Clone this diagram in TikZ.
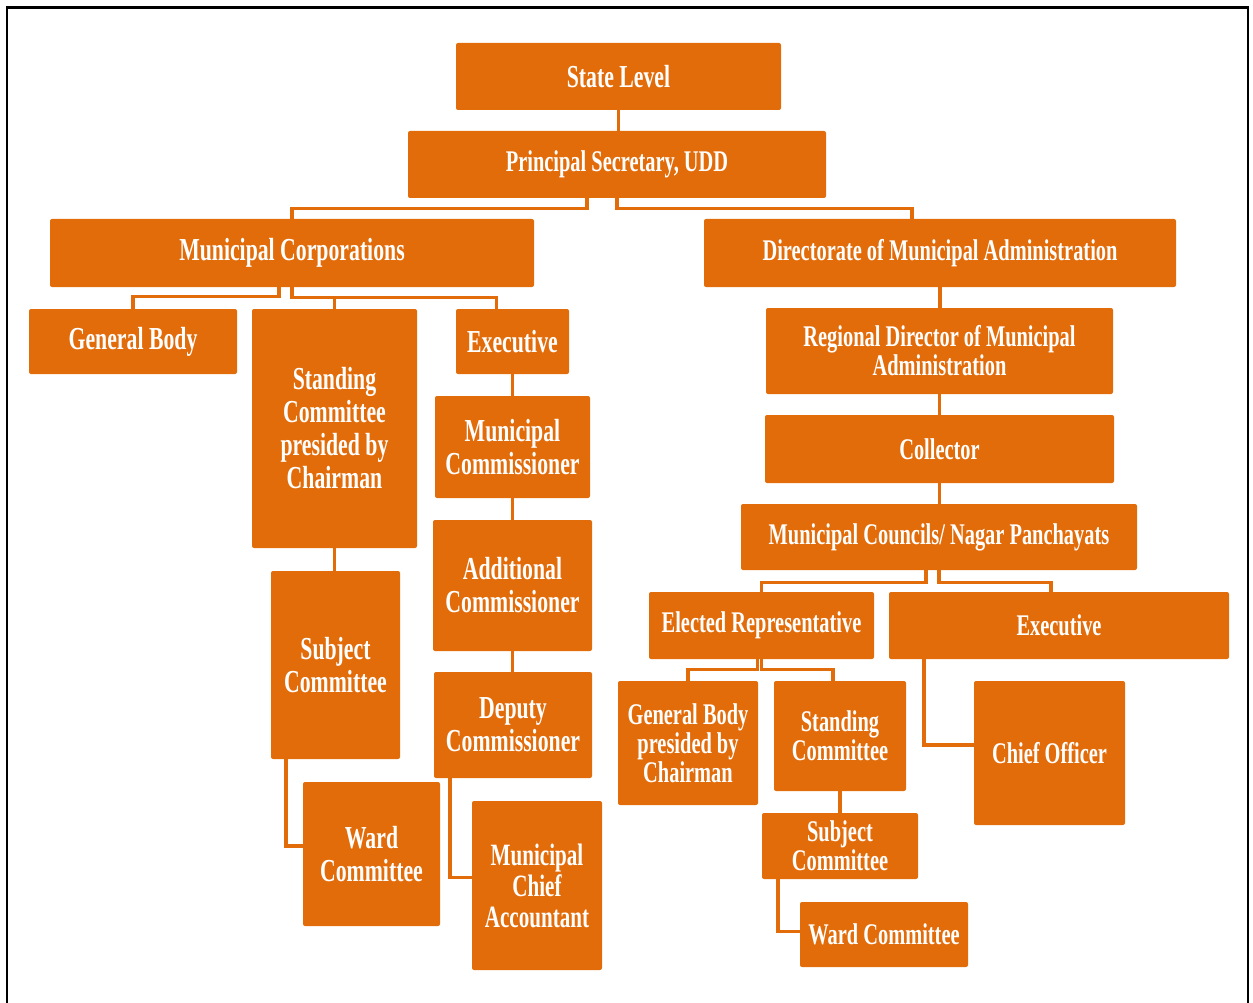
\documentclass[tikz,border=0pt]{standalone}
\usepackage{fontspec}
\newfontfamily\boxfont{Liberation Serif}[FakeStretch=0.68]
\definecolor{uddorange}{HTML}{E36C0A}

\begin{document}
\begin{tikzpicture}[x=1pt, y=-1pt,
        box/.style={fill=uddorange, text=white, rounded corners=2pt, inner sep=0pt, align=center,
                    font=\boxfont\bfseries\fontsize{30}{29}\selectfont},
        bigbox/.style={box, font=\boxfont\bfseries\fontsize{32}{33}\selectfont},
        link/.style={draw=uddorange, line width=3.3pt}]
    \useasboundingbox (0,0) rectangle (1253,1003);
    \draw[line width=2.5pt] (7,1003) -- (7,7.5) -- (1248,7.5) -- (1248,1003);

    % top
    \node[bigbox, minimum width=325, minimum height=67] (state) at (618.5,76.5) {State Level};
    \node[box, minimum width=418, minimum height=67] (ps) at (617,164.5) {Principal Secretary, UDD};

    % municipal corporations
    \node[bigbox, minimum width=484, minimum height=68] (mc) at (292,253) {Municipal Corporations};
    \node[bigbox, minimum width=208, minimum height=65] (gb) at (133,341.5) {General Body};
    \node[bigbox, minimum width=165, minimum height=239] (sc) at (334.5,428.5) {Standing\\Committee\\presided by\\Chairman};
    \node[bigbox, minimum width=113, minimum height=65] (exe) at (512.5,341.5) {Executive};
    \node[bigbox, minimum width=155, minimum height=102] (mcom) at (512.5,447) {Municipal\\Commissioner};
    \node[bigbox, minimum width=159, minimum height=131] (addl) at (512.5,585.5) {Additional\\Commissioner};
    \node[bigbox, minimum width=158, minimum height=106] (dep) at (513,725) {Deputy\\Commissioner};
    \node[bigbox, minimum width=129, minimum height=188] (subj) at (335.5,665) {Subject\\Committee};
    \node[bigbox, minimum width=137, minimum height=144] (ward) at (371.5,854) {Ward\\Committee};
    \node[box, minimum width=130, minimum height=169, font=\boxfont\bfseries\fontsize{31}{31}\selectfont] (mca) at (537,885.5) {Municipal\\Chief\\Accountant};

    % directorate
    \node[box, minimum width=472, minimum height=68] (dir) at (940,253) {Directorate of Municipal Administration};
    \node[box, minimum width=347, minimum height=86] (reg) at (939.5,351) {Regional Director of Municipal\\Administration};
    \node[box, minimum width=349, minimum height=68] (coll) at (939.5,449) {Collector};
    \node[box, minimum width=396, minimum height=66] (mcnp) at (939,537) {Municipal Councils/ Nagar Panchayats};
    \node[box, minimum width=225, minimum height=67] (er) at (761.5,625.5) {Elected Representative};
    \node[box, minimum width=340, minimum height=67] (exr) at (1059,625.5) {Executive};
    \node[box, minimum width=140, minimum height=124] (gbr) at (688,743) {General Body\\presided by\\Chairman};
    \node[box, minimum width=132, minimum height=110] (stc) at (840,736) {Standing\\Committee};
    \node[box, minimum width=156, minimum height=66] (subjr) at (840,846) {Subject\\Committee};
    \node[box, minimum width=168, minimum height=65] (wardr) at (884,934.5) {Ward Committee};
    \node[box, minimum width=151, minimum height=144] (chief) at (1049.5,753) {Chief Officer};

    % straight links
    \foreach \a/\b in {state/ps, exe/mcom, mcom/addl, addl/dep, sc/subj, dir/reg, reg/coll, coll/mcnp, stc/subjr}
        \draw[link] (\a.south) -- (\a.south |- \b.north);

    % elbow links
    \draw[link] ([xshift=-30pt]ps.south) -- ++(0,10) -| (mc.north);             % ps -- mc
    \draw[link] (ps.south) -- ++(0,10) -| ([xshift=-28pt]dir.north);            % ps -- dir
    \coordinate (mcbus) at ([yshift=-10pt]mc.south);
    \draw[link] ([xshift=-13pt]mc.south) -- ++(0,9) -| (gb.north);              % mc -- gb
    \draw[link] (mc.south) -- (mcbus) -| ([xshift=-16pt]exe.north);             % mc -- exe
    \draw[link] (mcbus -| sc.north) -- (sc.north);                              % mc -- sc
    \draw[link] ([xshift=-63pt]dep.south) |- ([yshift=8pt]mca.west);            % dep -- mca
    \draw[link] ([xshift=-49.5pt]subj.south) |- ([yshift=8pt]ward.west);        % subj -- ward
    \draw[link] ([xshift=-13pt]mcnp.south) -- ++(0,12) -| (er.north);           % mcnp -- er
    \draw[link] (mcnp.south) -- ++(0,12) -| ([xshift=-8pt]exr.north);           % mcnp -- exr
    \draw[link] ([xshift=-4pt]er.south) -- ++(0,10) -| (gbr.north);             % er -- gbr
    \draw[link] (er.south) -- ++(0,10) -| ([xshift=-7pt]stc.north);             % er -- stc
    \draw[link] ([xshift=-62pt]subjr.south) |- ([yshift=3pt]wardr.west);        % subjr -- wardr
    \draw[link] ([xshift=-135pt]exr.south) |- ([yshift=8pt]chief.west);         % exr -- chief
\end{tikzpicture}
\end{document}
